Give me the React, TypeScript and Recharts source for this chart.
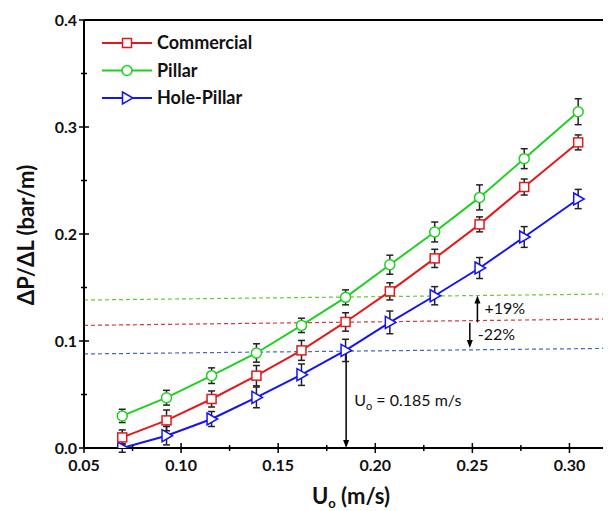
import { ErrorBar, Legend, Line, LineChart, ReferenceLine, XAxis, YAxis } from "recharts";

// superficial velocity (m/s)
const uo = [0.0697, 0.0925, 0.1157, 0.1388, 0.162, 0.1847, 0.2075, 0.2306, 0.2537, 0.2767, 0.3045];

// pressure drop per length (bar/m) and error bars
const commercial = [0.0099, 0.0258, 0.0458, 0.0676, 0.0912, 0.1178, 0.1464, 0.1772, 0.209, 0.2439, 0.2856];
const commercialErr = [0.007, 0.0097, 0.0075, 0.0095, 0.0093, 0.0086, 0.008, 0.0085, 0.007, 0.0075, 0.007];
const pillar = [0.03, 0.047, 0.0676, 0.0888, 0.1146, 0.1408, 0.1713, 0.2019, 0.2342, 0.2704, 0.3143];
const pillarErr = [0.0062, 0.0069, 0.0073, 0.0086, 0.0067, 0.007, 0.0089, 0.0093, 0.0117, 0.0093, 0.0121];
const holePillar = [0.0, 0.0115, 0.0271, 0.0473, 0.0685, 0.0912, 0.1174, 0.1423, 0.1682, 0.1972, 0.2327];
const holePillarErr = [0.004, 0.0086, 0.007, 0.0097, 0.01, 0.0104, 0.0106, 0.0085, 0.0098, 0.0097, 0.009];

// dashed guide lines (start / end value)
const guideX = [0.05, 0.325];
const pillarGuide = [0.1383, 0.144];
const commercialGuide = [0.1146, 0.1207];
const holePillarGuide = [0.0879, 0.0932];

// arrows: [x, from, to]
const uoArrow = [0.185, 0.088, 0.0];
const upArrow = [0.2526, 0.1175, 0.1425];
const downArrow = [0.2487, 0.117, 0.0935];

const xTicks = [0.05, 0.075, 0.1, 0.125, 0.15, 0.175, 0.2, 0.225, 0.25, 0.275, 0.3];
const yTicks = [0, 0.05, 0.1, 0.15, 0.2, 0.25, 0.3, 0.35, 0.4];

const RED = "#e31a1c";
const GREEN = "#1fd11f";
const BLUE = "#1414f5";
const FONT = "Lato, 'Open Sans', sans-serif";

const data = uo.map((x, i) => ({
  x,
  commercial: commercial[i],
  commercialErr: commercialErr[i],
  pillar: pillar[i],
  pillarErr: pillarErr[i],
  holePillar: holePillar[i],
  holePillarErr: holePillarErr[i],
}));

const square = (cx: number, cy: number, k?: any) => (
  <rect key={k} x={cx - 4.5} y={cy - 4.5} width={9} height={9} fill="#fff" stroke={RED} strokeWidth={1.5} />
);
const circle = (cx: number, cy: number, k?: any) => (
  <circle key={k} cx={cx} cy={cy} r={5} fill="#fff" stroke={GREEN} strokeWidth={1.5} />
);
const triangle = (cx: number, cy: number, k?: any) => (
  <polygon
    key={k}
    points={`${cx - 4.5},${cy - 6} ${cx + 6},${cy} ${cx - 4.5},${cy + 6}`}
    fill="#fff"
    stroke={BLUE}
    strokeWidth={1.5}
  />
);

const isMajor = (v: number, step: number) => Math.abs(v / step - Math.round(v / step)) < 1e-6;

const XTick = ({ x, y, payload }: any) => {
  const major = isMajor(payload.value, 0.05);
  const t = major ? 5 : 3;
  return (
    <g>
      <line x1={x} x2={x} y1={y - t} y2={y + t} stroke="#000" strokeWidth={1.5} />
      {major && (
        <text x={x} y={y + 23} textAnchor="middle" fontFamily={FONT} fontWeight="bold" fontSize={16} fill="#111">
          {payload.value.toFixed(2)}
        </text>
      )}
    </g>
  );
};

const YTick = ({ x, y, payload }: any) => {
  const major = isMajor(payload.value, 0.1);
  const t = major ? 5 : 3;
  return (
    <g>
      <line x1={x - t} x2={x + t} y1={y} y2={y} stroke="#000" strokeWidth={1.5} />
      {major && (
        <text x={x - 7} y={y + 6} textAnchor="end" fontFamily={FONT} fontWeight="bold" fontSize={16} fill="#111">
          {payload.value.toFixed(1)}
        </text>
      )}
    </g>
  );
};

const arrowShape = (props: any) => {
  const { x1, y1, x2, y2 } = props;
  const dir = y2 > y1 ? 1 : -1;
  return (
    <g>
      <line x1={x1} y1={y1} x2={x2} y2={y2 - dir * 6} stroke="#000" strokeWidth={1.5} />
      <polygon points={`${x2 - 3},${y2 - dir * 8} ${x2 + 3},${y2 - dir * 8} ${x2},${y2}`} fill="#000" />
    </g>
  );
};

const sideText = (content: React.ReactNode, dx: number) => (p: any) => {
  const vb = p.viewBox || {};
  return (
    <text x={vb.x + dx} y={vb.y + vb.height / 2 + 5} fontFamily={FONT} fontSize={16} fill="#111">
      {content}
    </text>
  );
};

const legendRows = [
  { name: "Commercial", color: RED, mark: square },
  { name: "Pillar", color: GREEN, mark: circle },
  { name: "Hole-Pillar", color: BLUE, mark: triangle },
];

const LegendBox = () => (
  <svg width={200} height={85}>
    {legendRows.map((r, i) => {
      const y = 15 + i * 27.5;
      return (
        <g key={r.name}>
          <line x1={7} x2={57} y1={y} y2={y} stroke={r.color} strokeWidth={2} />
          {r.mark(32, y)}
          <text x={62} y={y + 6} fontFamily={FONT} fontWeight="bold" fontSize={18} fill="#111">
            {r.name}
          </text>
        </g>
      );
    })}
  </svg>
);

export default function App() {
  return (
    <div style={{ width: 611, height: 511, marginLeft: -8, marginTop: -8, overflow: "hidden", background: "#fff" }}>
      <LineChart width={618} height={511} data={data} margin={{ top: 20, right: 0, bottom: 0, left: 0 }}>
        <XAxis
          type="number"
          dataKey="x"
          domain={[0.05, 0.325]}
          ticks={xTicks}
          interval={0}
          tick={(p: any) => <XTick {...p} />}
          tickLine={false}
          tickSize={0}
          tickMargin={0}
          axisLine={{ stroke: "#000", strokeWidth: 2 }}
          height={63}
          allowDataOverflow
          label={{
            content: () => (
              <text x={351} y={504} textAnchor="middle" fontFamily={FONT} fontWeight="bold" fontSize={22} fill="#111">
                U<tspan fontSize={13} dy={4}>o</tspan>
                <tspan dy={-4}> (m/s)</tspan>
              </text>
            ),
          }}
        />
        <YAxis
          type="number"
          domain={[0, 0.4]}
          ticks={yTicks}
          interval={0}
          tick={(p: any) => <YTick {...p} />}
          tickLine={false}
          tickSize={0}
          tickMargin={0}
          axisLine={{ stroke: "#000", strokeWidth: 2 }}
          width={84}
          allowDataOverflow
          label={{
            content: () => (
              <text
                x={25}
                y={235}
                transform="rotate(-90 25 235)"
                textAnchor="middle"
                dominantBaseline="central"
                fontFamily={FONT}
                fontWeight="bold"
                fontSize={22}
                fill="#111"
              >
                ΔP/ΔL (bar/m)
              </text>
            ),
          }}
        />
        <ReferenceLine y={0.4} stroke="#000" strokeWidth={2} />
        <ReferenceLine
          segment={[{ x: guideX[0], y: pillarGuide[0] }, { x: guideX[1], y: pillarGuide[1] }]}
          stroke="#66cc33"
          strokeDasharray="4 3"
          strokeWidth={1.2}
        />
        <ReferenceLine
          segment={[{ x: guideX[0], y: commercialGuide[0] }, { x: guideX[1], y: commercialGuide[1] }]}
          stroke="#d43a3a"
          strokeDasharray="4 3"
          strokeWidth={1.2}
        />
        <ReferenceLine
          segment={[{ x: guideX[0], y: holePillarGuide[0] }, { x: guideX[1], y: holePillarGuide[1] }]}
          stroke="#4169c8"
          strokeDasharray="4 3"
          strokeWidth={1.2}
        />
        <ReferenceLine
          segment={[{ x: uoArrow[0], y: uoArrow[1] }, { x: uoArrow[0], y: uoArrow[2] }]}
          shape={arrowShape}
          label={{
            content: sideText(
              <>
                U<tspan fontSize={11} dy={4}>o</tspan>
                <tspan dy={-4}> = 0.185 m/s</tspan>
              </>,
              8
            ),
          }}
        />
        <ReferenceLine
          segment={[{ x: upArrow[0], y: upArrow[1] }, { x: upArrow[0], y: upArrow[2] }]}
          shape={arrowShape}
          label={{ content: sideText("+19%", 7) }}
        />
        <ReferenceLine
          segment={[{ x: downArrow[0], y: downArrow[1] }, { x: downArrow[0], y: downArrow[2] }]}
          shape={arrowShape}
          label={{ content: sideText("-22%", 8) }}
        />
        <Line
          dataKey="holePillar"
          stroke={BLUE}
          strokeWidth={2}
          isAnimationActive={false}
          dot={(p: any) => triangle(p.cx, p.cy, p.key ?? p.index)}
        >
          <ErrorBar dataKey="holePillarErr" direction="y" width={3.5} stroke="#222" strokeWidth={1.5} />
        </Line>
        <Line
          dataKey="commercial"
          stroke={RED}
          strokeWidth={2}
          isAnimationActive={false}
          dot={(p: any) => square(p.cx, p.cy, p.key ?? p.index)}
        >
          <ErrorBar dataKey="commercialErr" direction="y" width={3.5} stroke="#222" strokeWidth={1.5} />
        </Line>
        <Line
          dataKey="pillar"
          stroke={GREEN}
          strokeWidth={2}
          isAnimationActive={false}
          dot={(p: any) => circle(p.cx, p.cy, p.key ?? p.index)}
        >
          <ErrorBar dataKey="pillarErr" direction="y" width={3.5} stroke="#222" strokeWidth={1.5} />
        </Line>
        <Legend
          layout="vertical"
          align="center"
          verticalAlign="middle"
          wrapperStyle={{ left: 95, top: 28, width: 200, height: 85 }}
          content={() => <LegendBox />}
        />
      </LineChart>
    </div>
  );
}
